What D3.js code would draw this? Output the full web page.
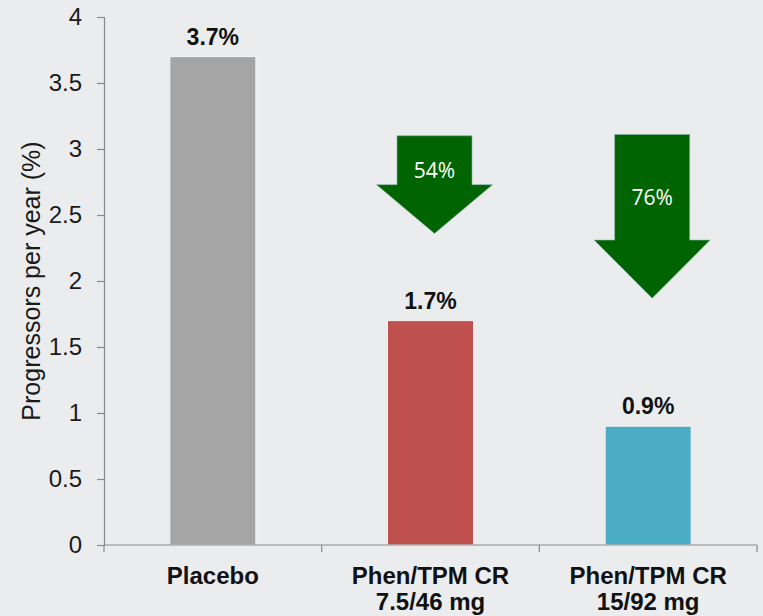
<!DOCTYPE html>
<html><head><meta charset="utf-8">
<script src="https://cdn.jsdelivr.net/npm/d3@7"></script>
<style>
html,body{margin:0;padding:0;background:#ebecee;}
svg{display:block;}
</style></head>
<body>
<svg id="chart" width="763" height="616"></svg>
<script>
const categories = [["Placebo"], ["Phen/TPM CR", "7.5/46 mg"], ["Phen/TPM CR", "15/92 mg"]];
const values = [3.7, 1.7, 0.9];
const valueLabels = ["3.7%", "1.7%", "0.9%"];
const barColors = ["#a5a5a5", "#c0504d", "#4bacc6"];
const yTicks = [0, 0.5, 1, 1.5, 2, 2.5, 3, 3.5, 4];
const yTitle = "Progressors per year (%)";
// reduction arrows: category index, label, top value, shaft-bottom value, tip value
const arrowCat = [1, 2];
const arrowLabels = ["54%", "76%"];
const arrowTop = [3.1, 3.11];
const arrowShaftEnd = [2.73, 2.31];
const arrowTip = [2.36, 1.87];

(function () {
const svg = d3.select("#chart");
const mLeft = 104, mRight = 757, mTop = 17, mBottom = 545;
const y = d3.scaleLinear().domain([0, 4]).range([mBottom, mTop]);
const xb = d3.scaleBand().domain(d3.range(categories.length)).range([mLeft, mRight]);

const axisColor = "#8a8a8a";
const sans = "'Liberation Sans', Arial, sans-serif";

// bars
svg.selectAll("rect.bar").data(values).join("rect")
  .attr("class", "bar")
  .attr("x", (d, i) => xb(i) + xb.bandwidth() / 2 - 43)
  .attr("width", 86)
  .attr("y", d => y(d))
  .attr("height", d => y(0) - y(d))
  .attr("fill", (d, i) => barColors[i])
  .attr("stroke", "#f4f4f4").attr("stroke-width", 1);

// value labels
svg.selectAll("text.val").data(values).join("text")
  .attr("class", "val")
  .attr("x", (d, i) => xb(i) + xb.bandwidth() / 2)
  .attr("y", d => y(d) - 12)
  .attr("text-anchor", "middle")
  .attr("font-family", sans).attr("font-weight", "bold").attr("font-size", 23)
  .attr("fill", "#111")
  .text((d, i) => valueLabels[i]);

// y axis
const yAxis = d3.axisLeft(y).tickValues(yTicks).tickSize(7).tickPadding(15).tickFormat(d3.format("~g"));
const gy = svg.append("g").attr("transform", `translate(${mLeft},0)`).call(yAxis);
gy.select(".domain").attr("stroke", axisColor).attr("stroke-width", 1.2);
gy.selectAll(".tick line").attr("stroke", axisColor).attr("stroke-width", 1.2);
gy.selectAll(".tick text").attr("font-family", sans).attr("font-size", 24).attr("fill", "#1a1a1a");

// x axis
const gx = svg.append("g").attr("transform", `translate(0,${mBottom})`);
gx.append("line").attr("x1", mLeft).attr("x2", mRight).attr("stroke", axisColor).attr("stroke-width", 1.2);
const boundaries = d3.range(categories.length + 1).map(i => i < categories.length ? xb(i) : xb(i - 1) + xb.bandwidth());
gx.selectAll("line.tk").data(boundaries).join("line")
  .attr("class", "tk")
  .attr("x1", d => d).attr("x2", d => d).attr("y1", 0).attr("y2", 7)
  .attr("stroke", axisColor).attr("stroke-width", 1.2);

// category labels
categories.forEach((lines, i) => {
  const t = svg.append("text")
    .attr("x", xb(i) + xb.bandwidth() / 2)
    .attr("y", 584)
    .attr("text-anchor", "middle")
    .attr("font-family", sans).attr("font-weight", "bold").attr("font-size", 24)
    .attr("fill", "#111");
  lines.forEach((l, j) => t.append("tspan").attr("x", xb(i) + xb.bandwidth() / 2).attr("dy", j === 0 ? 0 : 26).text(l));
});

// y title
svg.append("text")
  .attr("transform", `translate(40,281) rotate(-90)`)
  .attr("text-anchor", "middle")
  .attr("font-family", sans).attr("font-size", 25)
  .attr("fill", "#1a1a1a")
  .text(yTitle);

// arrows
arrowCat.forEach((c, k) => {
  const cx = xb(c) + xb.bandwidth() / 2 + 4;
  const sw = 37.5, hw = 58;
  const yt = y(arrowTop[k]), ys = y(arrowShaftEnd[k]), yp = y(arrowTip[k]);
  const pts = [[cx - sw, yt], [cx + sw, yt], [cx + sw, ys], [cx + hw, ys], [cx, yp], [cx - hw, ys], [cx - sw, ys]];
  svg.append("path")
    .attr("d", d3.line()(pts) + "Z")
    .attr("fill", "#006400")
    .attr("stroke", "#7fb0a8").attr("stroke-width", 1).attr("stroke-opacity", 0.6);
  svg.append("text")
    .attr("x", cx).attr("y", yt + (k === 0 ? 42 : 71))
    .attr("text-anchor", "middle")
    .attr("font-family", "'Open Sans', 'Noto Sans', sans-serif").attr("font-size", 21)
    .attr("fill", "#ffffff")
    .text(arrowLabels[k]);
});
})();
</script>
</body></html>
